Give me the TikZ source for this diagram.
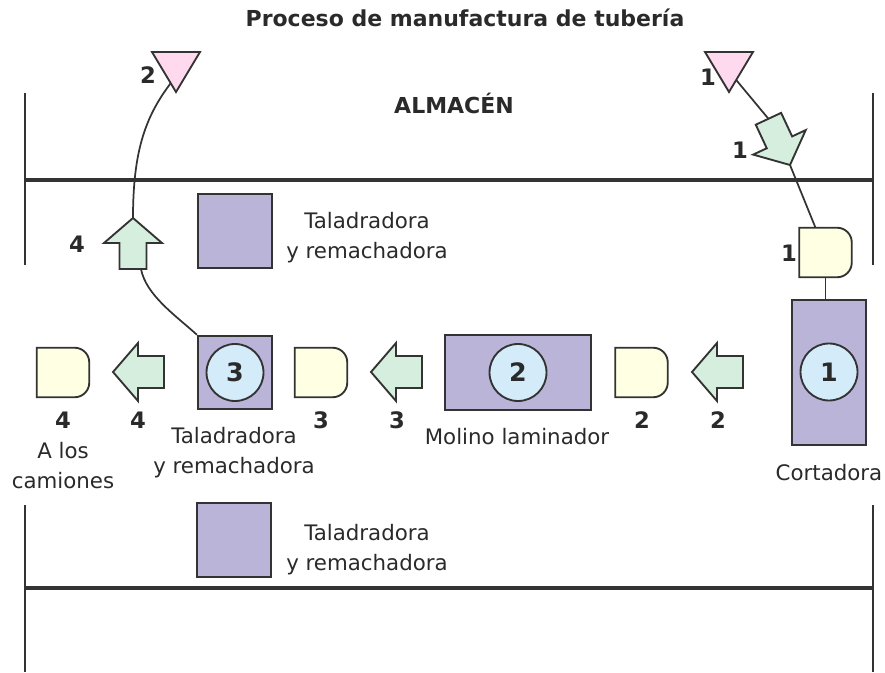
\documentclass[tikz,border=0pt]{standalone}
\usepackage{fontspec}
\setmainfont{DejaVu Sans}
\usetikzlibrary{calc,backgrounds}
\definecolor{ink}{HTML}{333333}
\definecolor{txt}{HTML}{2A2A2A}
\definecolor{machinefill}{HTML}{B9B4D8}
\definecolor{opfill}{HTML}{D4ECFA}
\definecolor{delayfill}{HTML}{FFFFE4}
\definecolor{movefill}{HTML}{D6EEDD}
\definecolor{storefill}{HTML}{FFD9EE}
\newcommand{\blockarrow}[5]{%
  \begin{scope}[shift={(#2,#3)},rotate=#4]
    \draw[movestyle] (0,0) -- (25,29) -- (25,#5) -- (51,#5) -- (51,-#5) -- (25,-#5) -- (25,-29) -- cycle;
    \coordinate (#1-tip) at (0,0);
    \coordinate (#1-tail) at (51,0);
  \end{scope}}
\newcommand{\delaysym}[3]{%
  \node[dbox] (#1) at (#2,#3) {};
  \draw[delaystyle] (#1.north west) -- ([xshift=-11pt]#1.north east)
    arc[start angle=90,end angle=0,radius=11pt] -- ([yshift=11pt]#1.south east)
    arc[start angle=0,end angle=-90,radius=11pt] -- (#1.south west) -- cycle;}
\newcommand{\storesym}[3]{%
  \coordinate (#1-tl) at (#2-24,#3);
  \coordinate (#1-tr) at (#2+24,#3);
  \coordinate (#1-tip) at (#2,#3-40);
  \draw[storestyle] (#1-tl) -- (#1-tr) -- (#1-tip) -- cycle;}
\begin{document}
\begin{tikzpicture}[x=0.75pt,y=0.75pt,
  font=\fontsize{16}{22.5}\selectfont, text=txt,
  frameh/.style={draw=ink,line width=2.3pt},
  framev/.style={draw=ink,line width=1.7pt},
  machine/.style={draw=ink,line width=1.6pt,fill=machinefill,inner sep=0},
  op/.style={circle,draw=ink,line width=1.4pt,fill=opfill,minimum size=42.75pt,inner sep=0,font=\fontsize{19}{20}\selectfont\bfseries},
  dbox/.style={minimum width=39pt,minimum height=36.75pt,inner sep=0},
  delaystyle/.style={draw=ink,line width=1.4pt,fill=delayfill},
  movestyle/.style={draw=ink,line width=1.4pt,fill=movefill,line join=miter},
  storestyle/.style={draw=ink,line width=1.4pt,fill=storefill},
  conn/.style={draw=ink,line width=1.3pt},
  num/.style={font=\fontsize{17}{18}\selectfont\bfseries,inner sep=0},
  lbl/.style={inner sep=0,align=center},
  title/.style={font=\fontsize{16.5}{18}\selectfont\bfseries,inner sep=0}]
\useasboundingbox (0,0) rectangle (885,672);

% frame lines
\draw[framev] (25,579) -- (25,407);
\draw[framev] (873,579) -- (873,407);
\draw[frameh] (25,492) -- (873,492);
\draw[framev] (25,167) -- (25,0);
\draw[framev] (873,167) -- (873,0);
\draw[frameh] (25,84) -- (873,84);

% titles
\node[title] (ttl) at (465,654) {Proceso de manufactura de tubería};
\node[title] (alm) at (454,569) {ALMACÉN};

% storage triangles
\storesym{t2}{176}{620}
\storesym{t1}{729}{620}
\node[num] (t2n) at (148,597) {2};
\node[num] (t1n) at (708,595) {1};

% machines (idle)
\node[machine,minimum width=55.5pt,minimum height=55.5pt] (mtop) at (235,441) {};
\node[lbl] (mtopl) at (367,434) {Taladradora\\y remachadora};
\node[machine,minimum width=55.5pt,minimum height=55.5pt] (mbot) at (234,132) {};
\node[lbl] (mbotl) at (367,122) {Taladradora\\y remachadora};

% operations
\node[machine,minimum width=55.5pt,minimum height=55pt] (m3) at (235,299.5) {};
\node[op] (o3) at (m3) {3};
\node[lbl] (m3l) at (234,219) {Taladradora\\y remachadora};
\node[machine,minimum width=109.5pt,minimum height=56.25pt] (m2) at (518,299.5) {};
\node[op] (o2) at (m2) {2};
\node[lbl] (m2l) at (517,235) {Molino laminador};
\node[machine,minimum width=55.5pt,minimum height=108.75pt] (m1) at (829,299.5) {};
\node[op] (o1) at (829,300) {1};
\node[lbl] (m1l) at (829,199) {Cortadora};

% delays
\delaysym{d4}{63}{299.5}
\delaysym{d3}{321}{299.5}
\delaysym{d2}{641.5}{299.5}
\delaysym{d1}{825.5}{419.5}
\node[num] (d4n) at (63,252) {4};
\node[num] (d3n) at (321,252) {3};
\node[num] (d2n) at (642,252) {2};
\node[num] (d1n) at (789,419) {1};
\node[lbl] (d4l) at (63,206.5) {A los\\camiones};

% moves
\blockarrow{a4}{113}{300}{0}{16}
\blockarrow{a3}{371}{300}{0}{16}
\blockarrow{a2}{692}{300}{0}{16}
\blockarrow{a5}{133}{454}{-90}{13.5}
\blockarrow{a1}{790}{507}{115}{14}
\node[num] (a4n) at (138,252) {4};
\node[num] (a3n) at (397,252) {3};
\node[num] (a2n) at (718,252) {2};
\node[num] (a5n) at (77,428) {4};
\node[num] (a1n) at (740,522) {1};

% connectors
\begin{scope}[on background layer]
\draw[conn] ($(t1-tr)!0.7!(t1-tip)$) -- (a1-tail);
\draw[conn] (a1-tip) -- ($(d1.north)+(-10,0)$);
\draw[conn] (d1.south) -- (d1.south |- m1.north);
\draw[conn] ($(t2-tl)!0.78!(t2-tip)$) .. controls (145,555) and (133,520) .. (a5-tip);
\draw[conn] ($(a5-tail)+(8,0)$) .. controls (146,377) and (175,357) .. (m3.north west);
\end{scope}
\end{tikzpicture}
\end{document}
